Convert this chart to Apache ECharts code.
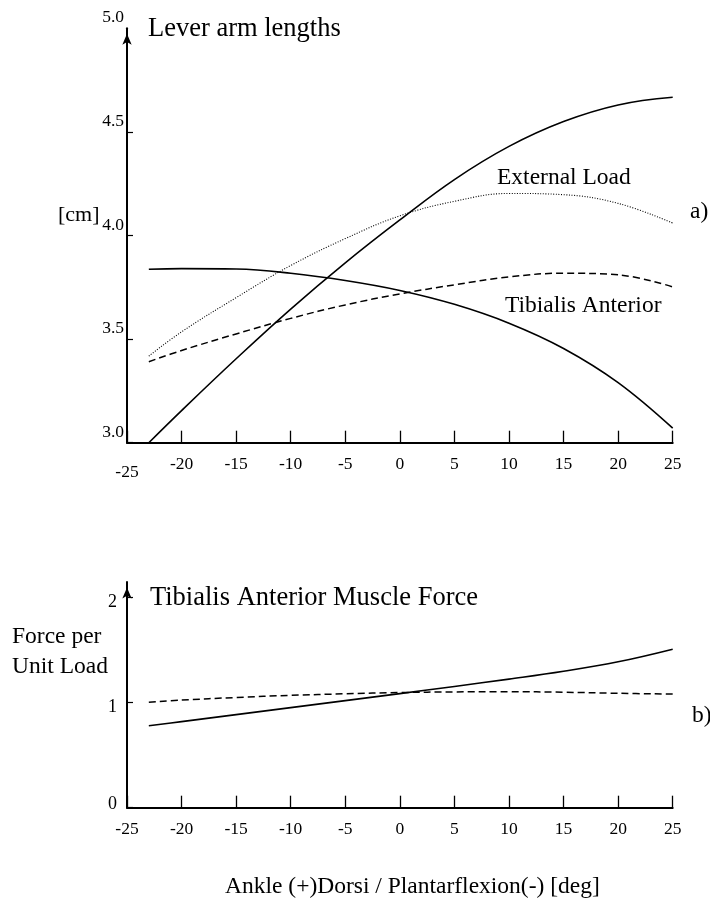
<!DOCTYPE html>
<html><head><meta charset="utf-8">
<script src="https://cdn.jsdelivr.net/npm/echarts@6/dist/echarts.min.js"></script>
<style>html,body{margin:0;padding:0;background:#fff}#c{width:710px;height:904px}</style>
</head><body><div id="c"></div>
<script>
// ---- data ----
const angles = [-23, -20, -15, -10, -5, 0, 5, 10, 15, 20, 25];
// a) Lever arm lengths [cm]
const leverRising   = [3.00, 3.155, 3.405, 3.645, 3.868, 4.075, 4.27, 4.43, 4.55, 4.63, 4.667];
const leverFalling  = [3.837, 3.840, 3.838, 3.818, 3.783, 3.735, 3.668, 3.577, 3.455, 3.29, 3.07];
const leverExternal = [3.418, 3.535, 3.70, 3.855, 3.985, 4.095, 4.165, 4.203, 4.197, 4.155, 4.06];
const leverTibialis = [3.391, 3.445, 3.525, 3.60, 3.665, 3.718, 3.762, 3.80, 3.818, 3.81, 3.752];
// b) Tibialis anterior muscle force per unit load
const forceSolid  = [0.78, 0.82, 0.887, 0.953, 1.02, 1.087, 1.155, 1.225, 1.30, 1.39, 1.51];
const forceDashed = [1.005, 1.025, 1.05, 1.07, 1.085, 1.097, 1.103, 1.105, 1.10, 1.09, 1.082];
// ticks
const xTickValues = [-25, -20, -15, -10, -5, 0, 5, 10, 15, 20, 25];
const leverTickValues = [3.0, 3.5, 4.0, 4.5];
const leverLabelValues = [3.0, 3.5, 4.0, 4.5, 5.0];
const forceTickValues = [0, 1, 2];

const FONT = "'Liberation Serif','Times New Roman',Times,serif";
const pairs = ys => angles.map((x, i) => [x, ys[i]]);

const chart = echarts.init(document.getElementById('c'), null, {renderer: 'canvas'});

function xAxisCfg(gi, lowFirst) {
  return {
    gridIndex: gi, type: 'value', min: -25, max: 25, interval: 5,
    axisLine: {show: true, onZero: false, lineStyle: {color: '#000', width: 2}},
    axisTick: {show: true, inside: true, length: 12, customValues: xTickValues, lineStyle: {color: '#000', width: 1.3}},
    axisLabel: {
      margin: 13, color: '#000', fontFamily: FONT, fontSize: 17.5, customValues: xTickValues,
      formatter: v => (lowFirst && v === -25) ? '{low|-25}' : '{n|' + v + '}',
      rich: {
        low: {padding: [8, 0, 0, 0], fontFamily: FONT, fontSize: 17.5, color: '#000'},
        n: {fontFamily: FONT, fontSize: 17.5, color: '#000'}
      }
    },
    splitLine: {show: false}
  };
}

const lineStyleSolid = {color: '#000', width: 1.6, type: 'solid'};
const lineStyleDashed = {color: '#000', width: 1.5, type: [7, 4]};
const lineStyleDotted = {color: '#000', width: 1.1, type: [1, 1.6]};

function series(name, ys, xi, ls) {
  return {name, type: 'line', xAxisIndex: xi, yAxisIndex: xi, data: pairs(ys),
    smooth: 0.4, symbol: 'none', lineStyle: ls, silent: true};
}

const labels = [
  ['Lever arm lengths', 148, 29, 26.5],
  ['External Load', 497, 178, 23.5],
  ['Tibialis Anterior', 505, 306, 23.5],
  ['a)', 690, 212, 23.5],
  ['[cm]', 58, 215, 22],
  ['Tibialis Anterior Muscle Force', 150, 598, 26.5],
  ['Force per', 12, 637, 23.5],
  ['Unit Load', 12, 667, 23.5],
  ['b)', 692, 716, 23.5],
  ['Ankle (+)Dorsi / Plantarflexion(-) [deg]', 225, 887, 23.5]
];

const option = {
  animation: false,
  backgroundColor: '#fff',
  grid: [
    {left: 127, right: 37.3, top: 28.3, bottom: 461.3, containLabel: false},
    {left: 127, right: 37.3, top: 582, bottom: 96.3, containLabel: false}
  ],
  xAxis: [xAxisCfg(0, true), xAxisCfg(1, false)],
  yAxis: [
    {
      gridIndex: 0, type: 'value', min: 3, max: 5, interval: 0.5,
      axisLine: {show: true, onZero: false, symbol: ['none', 'arrow'], symbolSize: [7, 11], symbolOffset: [0, -5.5],
        lineStyle: {color: '#000', width: 2}},
      axisTick: {show: true, inside: true, length: 6, customValues: leverTickValues, lineStyle: {color: '#000', width: 1.2}},
      axisLabel: {margin: 3, color: '#000', fontFamily: FONT, fontSize: 17.5,
        customValues: leverLabelValues, formatter: v => '{a|' + v.toFixed(1) + '}',
        rich: {a: {padding: [0, 0, 21, 0], fontFamily: FONT, fontSize: 17.5, color: '#000'}}},
      splitLine: {show: false}
    },
    {
      gridIndex: 1, type: 'value', min: 0, max: 2.15,
      axisLine: {show: true, onZero: false, symbol: ['none', 'arrow'], symbolSize: [7, 11], symbolOffset: [0, -5.5],
        lineStyle: {color: '#000', width: 2}},
      axisTick: {show: true, inside: true, length: 6, customValues: forceTickValues, lineStyle: {color: '#000', width: 1.2}},
      axisLabel: {margin: 10, color: '#000', fontFamily: FONT, fontSize: 18,
        customValues: forceTickValues,
        formatter: v => v === 0 ? '{z|0}' : '{a|' + v + '}',
        rich: {
          z: {padding: [0, 0, 6, 0], fontFamily: FONT, fontSize: 18, color: '#000'},
          a: {padding: [10, 0, 0, 0], fontFamily: FONT, fontSize: 18, color: '#000'}
        }},
      splitLine: {show: false}
    }
  ],
  series: [
    series('Lever rising', leverRising, 0, lineStyleSolid),
    series('Lever falling', leverFalling, 0, lineStyleSolid),
    series('External Load', leverExternal, 0, lineStyleDotted),
    series('Tibialis Anterior', leverTibialis, 0, lineStyleDashed),
    series('Force solid', forceSolid, 1, lineStyleSolid),
    series('Force dashed', forceDashed, 1, lineStyleDashed)
  ],
  graphic: labels.map(([t, x, y, s]) => ({
    type: 'text', x: x, y: y, silent: true,
    style: {text: t, fill: '#000', fontFamily: FONT, fontSize: s, align: 'left', verticalAlign: 'middle'}
  }))
};
chart.setOption(option);
</script>
</body></html>
